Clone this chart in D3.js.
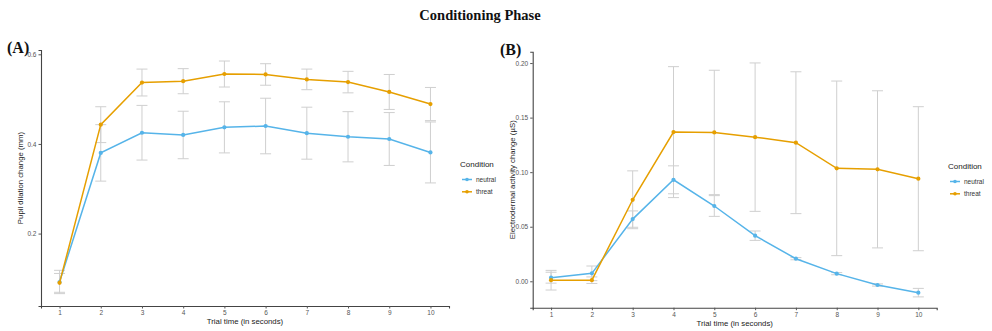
<!DOCTYPE html>
<html><head><meta charset="utf-8">
<script src="https://cdn.jsdelivr.net/npm/d3@7"></script>
<style>body{margin:0;background:#fff}svg{display:block}</style>
</head><body>
<svg id="c" width="992" height="331"></svg>
<script>
const trials = [1,2,3,4,5,6,7,8,9,10];
const conditions = ["neutral","threat"];
const colors = {neutral:"#56B4E9", threat:"#E69F00"};

// Panel A: pupil dilation change (mm)
const pupilNeutral   = [0.092,0.380,0.425,0.420,0.437,0.440,0.424,0.416,0.411,0.381];
const pupilNeutralSE = [0.026,0.063,0.061,0.053,0.057,0.062,0.058,0.056,0.059,0.068];
const pupilThreat    = [0.090,0.443,0.537,0.540,0.556,0.555,0.544,0.538,0.516,0.489];
const pupilThreatSE  = [0.021,0.040,0.030,0.028,0.029,0.024,0.023,0.024,0.039,0.037];
const pupilTicks = [0.2,0.4,0.6];

// Panel B: electrodermal activity change (µS)
const edaNeutral   = [0.0033,0.0073,0.057,0.093,0.069,0.0418,0.0207,0.007,-0.0034,-0.0104];
const edaNeutralSE = [0.005,0.0067,0.0075,0.0128,0.0095,0.0043,0.001,0.001,0.001,0.0039];
const edaThreat    = [0.001,0.001,0.0747,0.1367,0.1364,0.1321,0.127,0.1035,0.1026,0.094];
const edaThreatSE  = [0.009,0.003,0.0265,0.060,0.057,0.068,0.065,0.080,0.072,0.066];
const edaTicks = [0.00,0.05,0.10,0.15,0.20];

const svg = d3.select("#c");
const sans = "Liberation Sans, Arial, sans-serif";
const serif = "Liberation Serif, Times New Roman, serif";

svg.append("text").attr("x",480).attr("y",20).attr("text-anchor","middle")
  .attr("font-family",serif).attr("font-weight","bold").attr("font-size",14.5)
  .attr("fill","#111").text("Conditioning Phase");

function panel(cfg){
  const g = svg.append("g");
  const x = d3.scaleLinear().domain([0.55,10.45]).range([cfg.x0,cfg.x1]);
  const y = d3.scaleLinear().domain(cfg.ydom).range([cfg.y0,cfg.y1]);
  // axes
  const xa = g.append("g").attr("transform",`translate(0,${cfg.y0})`)
    .call(d3.axisBottom(x).tickValues(trials).tickSize(2.5).tickPadding(2).tickFormat(d3.format("d")));
  const ya = g.append("g").attr("transform",`translate(${cfg.x0},0)`)
    .call(d3.axisLeft(y).tickValues(cfg.ticks).tickSize(2.5).tickPadding(2).tickFormat(d3.format(cfg.fmt)));
  [xa,ya].forEach(a=>{
    a.select(".domain").attr("stroke","#444").attr("stroke-width",1.1);
    a.selectAll(".tick line").attr("stroke","#555");
    a.selectAll(".tick text").attr("fill","#555").attr("font-size",6.5).attr("font-family",sans);
  });
  // titles
  g.append("text").attr("x",(cfg.x0+cfg.x1)/2).attr("y",cfg.y0+18).attr("text-anchor","middle")
    .attr("font-family",sans).attr("font-size",7.8).attr("fill","#222").text("Trial time (in seconds)");
  g.append("text").attr("transform",`translate(${cfg.ytx},${(cfg.y0+cfg.y1)/2}) rotate(-90)`)
    .attr("text-anchor","middle").attr("font-family",sans).attr("font-size",7.8).attr("fill","#222").text(cfg.ytitle);
  g.append("text").attr("x",cfg.lx).attr("y",cfg.ly).attr("font-family",serif).attr("font-weight","bold")
    .attr("font-size",16).attr("fill","#111").text(cfg.label);
  // error bars
  conditions.forEach(c=>{
    const vals = cfg.data[c], se = cfg.se[c];
    const eb = g.append("g").attr("stroke","#cfcfcf").attr("stroke-width",1);
    trials.forEach((t,i)=>{
      const xx = x(t), yt = y(vals[i]+se[i]), yb = y(vals[i]-se[i]);
      eb.append("line").attr("x1",xx).attr("x2",xx).attr("y1",yt).attr("y2",yb);
      eb.append("line").attr("x1",xx-5.5).attr("x2",xx+5.5).attr("y1",yt).attr("y2",yt);
      eb.append("line").attr("x1",xx-5.5).attr("x2",xx+5.5).attr("y1",yb).attr("y2",yb);
    });
  });
  // lines and points
  conditions.forEach(c=>{
    const vals = cfg.data[c];
    const line = d3.line().x((d,i)=>x(trials[i])).y(d=>y(d));
    g.append("path").datum(vals).attr("d",line).attr("fill","none")
      .attr("stroke",colors[c]).attr("stroke-width",1.5);
    g.selectAll(null).data(vals).enter().append("circle")
      .attr("cx",(d,i)=>x(trials[i])).attr("cy",d=>y(d)).attr("r",2.1).attr("fill",colors[c]);
  });
  // legend
  const lg = g.append("g").attr("transform",`translate(${cfg.legx},${cfg.legy})`);
  lg.append("text").attr("x",0).attr("y",0).attr("font-family",sans).attr("font-size",8)
    .attr("fill","#222").text("Condition");
  conditions.forEach((c,i)=>{
    const yy = 12.5 + i*12.3;
    lg.append("line").attr("x1",2).attr("x2",12).attr("y1",yy).attr("y2",yy)
      .attr("stroke",colors[c]).attr("stroke-width",1.5);
    lg.append("circle").attr("cx",7).attr("cy",yy).attr("r",1.8).attr("fill",colors[c]);
    lg.append("text").attr("x",16).attr("y",yy+2.2).attr("font-family",sans).attr("font-size",6.5)
      .attr("fill","#333").text(c);
  });
}

panel({x0:41,x1:449,y0:306,y1:50,ydom:[0.0384,0.6096],ticks:pupilTicks,fmt:".1f",
  data:{neutral:pupilNeutral,threat:pupilThreat},se:{neutral:pupilNeutralSE,threat:pupilThreatSE},
  ytitle:"Pupil dilation change (mm)",ytx:23,label:"(A)",lx:7,ly:53,legx:460,legy:167});

panel({x0:532.7,x1:936.7,y0:307.7,y1:51.7,ydom:[-0.0242,0.2104],ticks:edaTicks,fmt:".2f",
  data:{neutral:edaNeutral,threat:edaThreat},se:{neutral:edaNeutralSE,threat:edaThreatSE},
  ytitle:"Electrodermal activity change (\u00B5S)",ytx:515,label:"(B)",lx:500,ly:55,legx:948,legy:169});
</script>
</body></html>
